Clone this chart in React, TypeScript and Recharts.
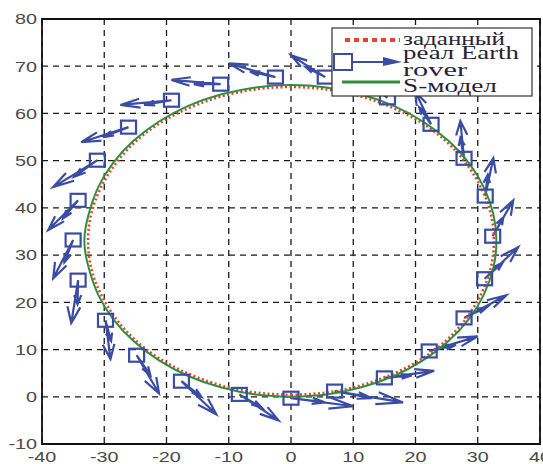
import { ComposedChart, Line, Scatter, XAxis, YAxis, CartesianGrid, ReferenceArea } from 'recharts'

const X_TICKS = [-40, -30, -20, -10, 0, 10, 20, 30, 40]
const Y_TICKS = [-10, 0, 10, 20, 30, 40, 50, 60, 70, 80]

// заданный (desired path)
const DESIRED_X = [0, 5.7, 11.2, 16.3, 21.0, 25.0, 28.2, 30.6, 32.1, 32.6, 32.1, 30.6, 28.2, 25.0, 21.0, 16.3, 11.2, 5.7, 0, -5.7, -11.2, -16.3, -21.0, -25.0, -28.2, -30.6, -32.1, -32.6, -32.1, -30.6, -28.2, -25.0, -21.0, -16.3, -11.2, -5.7, 0]
const DESIRED_Y = [0.4, 0.9, 2.4, 4.8, 8.0, 12.0, 16.7, 21.9, 27.3, 33.0, 38.7, 44.1, 49.3, 54.0, 58.0, 61.2, 63.6, 65.1, 65.6, 65.1, 63.6, 61.2, 58.0, 54.0, 49.3, 44.1, 38.7, 33.0, 27.3, 21.9, 16.7, 12.0, 8.0, 4.8, 2.4, 0.9, 0.4]

// S-модел
const MODEL_X = [0, 5.7, 11.3, 16.5, 21.2, 25.3, 28.6, 31.0, 32.5, 33.0, 32.5, 31.0, 28.6, 25.3, 21.2, 16.5, 11.3, 5.7, 0, -5.7, -11.3, -16.5, -21.2, -25.3, -28.6, -31.0, -32.5, -33.2, -32.5, -31.0, -28.6, -25.3, -21.2, -16.5, -11.3, -5.7, 0]
const MODEL_Y = [0, 0.5, 2.0, 4.4, 7.7, 11.8, 16.5, 21.7, 27.3, 33.0, 38.7, 44.3, 49.5, 54.2, 58.3, 61.6, 64.0, 65.5, 66.0, 65.5, 64.0, 61.6, 58.3, 54.2, 49.5, 44.3, 38.7, 33.0, 27.3, 21.7, 16.5, 11.8, 7.7, 4.4, 2.0, 0.5, 0]

// реал Earth rover: positions and heading arrow tips
const ROVER_X = [0, 7, 15, 22.2, 27.8, 31.1, 32.4, 31.2, 27.8, 22.5, 15.5, 5.5, -2.5, -11.3, -19.2, -26.1, -31.1, -34.2, -35, -34.2, -29.8, -24.8, -17.6, -8.3]
const ROVER_Y = [-0.3, 1.2, 4, 9.7, 16.7, 25, 34, 42.5, 50.5, 57.7, 63.3, 67.7, 67.7, 66.2, 62.8, 57.1, 50.1, 41.6, 33.2, 24.7, 16.2, 8.8, 3.3, 0.5]
const TIP_X = [10, 18, 23, 30, 34.6, 36.5, 35.7, 32.5, 27.2, 20, 11, 0, -10, -19.2, -27.4, -33.7, -38.2, -39, -38.2, -35.3, -29, -21.2, -12, -2]
const TIP_Y = [-2, -1.2, 5.5, 12.8, 21.5, 31.7, 41.6, 50.5, 58.4, 64.5, 68.5, 72.3, 70.6, 67.1, 61.8, 53.9, 44.4, 35.3, 25.1, 15.6, 8, 0.7, -3.7, -5]
const MID_X = [5.5, 13, 19.4, 26.5, 31.5, 34, 34.1, 31.6, 27.2, 20.6, 12.8, 2.4, -6.6, -15.6, -23.6, -30.2, -34.8, -36.6, -36.4, -34.3, -28.9, -22.6, -14.4, -4.7]
const MID_Y = [-1.2, -0.3, 4.5, 11, 19, 28.4, 38, 47, 54.8, 61.3, 65.9, 69.8, 68.9, 66.2, 61.8, 55, 46.6, 37.8, 28.5, 19.6, 11.8, 4.6, 0, -2.3]

const BLUE = '#3a4ca3'
const RED = '#e5452e'
const GREEN = '#2f8f3c'

const zip = (xs: number[], ys: number[]) => xs.map((x, i) => ({ x, y: ys[i] }))

// quiver-style arrow: shaft + two barbs, split by null points
function arrow(tx: number, ty: number, px: number, py: number) {
  const u = px - tx
  const v = py - ty
  const a = 0.38
  const b = 0.3
  return [
    { x: tx, y: ty },
    { x: px, y: py },
    { x: px, y: null },
    { x: px - a * (u + b * v), y: py - a * (v - b * u) },
    { x: px, y: py },
    { x: px - a * (u - b * v), y: py - a * (v + b * u) },
    { x: px, y: null },
  ]
}

const desired = zip(DESIRED_X, DESIRED_Y)
const model = zip(MODEL_X, MODEL_Y)
const rover = zip(ROVER_X, ROVER_Y)
const arrows = ROVER_X.flatMap((x, i) => [
  ...arrow(x, ROVER_Y[i], TIP_X[i], TIP_Y[i]),
  ...arrow(x, ROVER_Y[i], MID_X[i], MID_Y[i]),
])

const tickFont = { fill: '#4a4a4a', fontSize: 15, fontFamily: 'Liberation Sans, Arial, sans-serif' }

const XTick = (props: any) => (
  <g transform={`translate(${props.x},${props.y}) scale(1.32,1)`}>
    <text x={0} y={0} dy="0.71em" textAnchor="middle" {...tickFont}>{props.payload.value}</text>
  </g>
)

const YTick = (props: any) => (
  <g transform={`translate(${props.x},${props.y}) scale(1.32,1)`}>
    <text x={0} y={0} dy="0.355em" textAnchor="end" {...tickFont}>{props.payload.value}</text>
  </g>
)

const Square = (props: any) => (
  <rect x={props.cx - 7.5} y={props.cy - 6.5} width={15} height={13} fill="none" stroke={BLUE} strokeWidth={2.2} />
)

function LegendBox() {
  const txt = { fill: '#2a1f35', fontSize: 18, fontFamily: 'Liberation Serif, Times New Roman, serif' }
  return (
    <svg width={202} height={70} style={{ position: 'absolute', left: 331, top: 27 }}>
      <rect x={1} y={1} width={200} height={68} fill="#fff" stroke="#333" strokeWidth={1.2} />
      <line x1={14} y1={13} x2={69} y2={13} stroke={RED} strokeWidth={4} strokeDasharray="5 4" />
      <rect x={3} y={27} width={18} height={16} fill="none" stroke={BLUE} strokeWidth={2} />
      <line x1={21} y1={35} x2={58} y2={35} stroke={BLUE} strokeWidth={2.2} />
      <path d="M52,30 L71,35 L52,39 Z" fill={BLUE} />
      <line x1={11} y1={55} x2={69} y2={55} stroke={GREEN} strokeWidth={3} />
      <text x={72} y={18} textLength={102} lengthAdjust="spacingAndGlyphs" {...txt}>заданный</text>
      <text x={72} y={32} textLength={116} lengthAdjust="spacingAndGlyphs" {...txt}>реал Earth</text>
      <text x={72} y={49} textLength={64} lengthAdjust="spacingAndGlyphs" {...txt}>rover</text>
      <text x={72} y={65} textLength={94} lengthAdjust="spacingAndGlyphs" {...txt}>S-модел</text>
    </svg>
  )
}

export default function App() {
  return (
    <div style={{ position: 'absolute', left: 0, top: 0, width: 543, height: 464, background: '#fff' }}>
      <ComposedChart width={543} height={464} margin={{ top: 19, right: 3, left: 0, bottom: 0 }}>
        <CartesianGrid
          horizontalValues={Y_TICKS}
          verticalValues={X_TICKS}
          stroke="#1a1a1a"
          strokeWidth={1.3}
          strokeDasharray="6 5"
        />
        <XAxis
          dataKey="x"
          type="number"
          domain={[-40, 40]}
          ticks={X_TICKS}
          interval={0}
          allowDataOverflow
          axisLine={false}
          tickLine={false}
          tickSize={4}
          tickMargin={3}
          height={20}
          tick={<XTick />}
        />
        <YAxis
          type="number"
          domain={[-10, 80]}
          ticks={Y_TICKS}
          interval={0}
          allowDataOverflow
          axisLine={false}
          tickLine={false}
          tickSize={3}
          tickMargin={2}
          width={42}
          tick={<YTick />}
        />
        <Line
          data={arrows}
          dataKey="y"
          type="linear"
          stroke={BLUE}
          strokeWidth={2.2}
          dot={false}
          activeDot={false}
          connectNulls={false}
          isAnimationActive={false}
        />
        <Scatter data={rover} dataKey="y" shape={<Square />} isAnimationActive={false} />
        <Line
          data={desired}
          dataKey="y"
          type="natural"
          stroke={RED}
          strokeWidth={2.6}
          strokeDasharray="2 2.5"
          dot={false}
          activeDot={false}
          isAnimationActive={false}
        />
        <Line
          data={model}
          dataKey="y"
          type="natural"
          stroke={GREEN}
          strokeWidth={2}
          dot={false}
          activeDot={false}
          isAnimationActive={false}
        />
        <ReferenceArea x1={-40} x2={40} y1={-10} y2={80} fill="none" stroke="#111" strokeWidth={1.8} />
      </ComposedChart>
      <LegendBox />
    </div>
  )
}
